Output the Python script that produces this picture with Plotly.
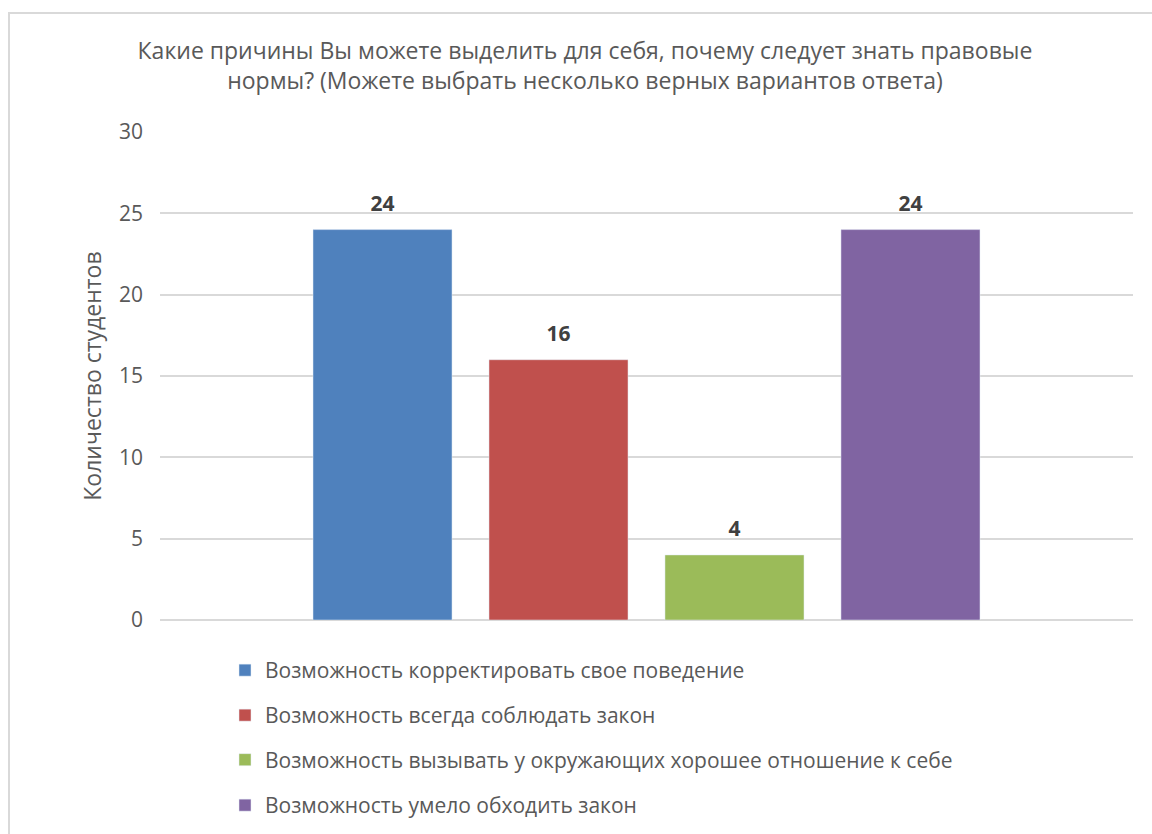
import plotly.graph_objects as go

title_text = "Какие причины Вы можете выделить для себя, почему следует знать правовые<br>нормы? (Можете выбрать несколько верных вариантов ответа)"
y_title = "Количество студентов"
category = [""]
series_names = [
    "Возможность корректировать свое поведение",
    "Возможность всегда соблюдать закон",
    "Возможность вызывать у окружающих хорошее отношение к себе",
    "Возможность умело обходить закон",
]
series_values = [24, 16, 4, 24]
series_colors = ["#4F81BD", "#C0504D", "#9BBB59", "#8064A2"]
y_ticks = [0, 5, 10, 15, 20, 25, 30]

FONT = "Open Sans"
BARGAP = 0.2765
legend_ids = ["legend", "legend2", "legend3", "legend4"]

fig = go.Figure()
for i, (name, val, col) in enumerate(zip(series_names, series_values, series_colors)):
    fig.add_trace(go.Bar(
        x=category, y=[val], name=name, marker_color=col,
        offsetgroup=f"g{i}", legend=legend_ids[i], hoverinfo="skip",
    ))
for i, (name, val) in enumerate(zip(series_names, series_values)):
    fig.add_trace(go.Scatter(
        x=category, y=[val], mode="markers+text", text=[str(val)], textposition="top center",
        marker=dict(size=20, color="rgba(0,0,0,0)"),
        textfont=dict(family=FONT, size=21, color="#404040", weight="bold"),
        offsetgroup=f"g{i}", showlegend=False, cliponaxis=False, hoverinfo="skip",
    ))

W, H = 1152, 834
L, R, T, B = 160, 19, 132, 214
pw, ph = W - L - R, H - T - B
plot_bottom = H - B

legend_tops = [650, 695, 739.5, 785]  # pixel rows of each legend entry
legend_layout = {}
for lid, top in zip(legend_ids, legend_tops):
    legend_layout[lid] = dict(
        orientation="v", x=(225 - L) / pw, xanchor="left", y=(plot_bottom - top) / ph, yanchor="top",
        font=dict(family=FONT, size=21, color="#595959"), itemwidth=30, bgcolor="rgba(0,0,0,0)",
    )

fig.update_layout(
    width=W, height=H,
    margin=dict(l=L, r=R, t=T, b=B, autoexpand=False),
    paper_bgcolor="white", plot_bgcolor="white",
    barmode="group", bargap=BARGAP, bargroupgap=0.21,
    scattermode="group", scattergap=BARGAP,
    font=dict(family=FONT, color="#595959"),
    title=dict(text=title_text, x=585 / W, xanchor="center", y=1 - 59 / H, yanchor="middle",
               font=dict(family=FONT, size=23, color="#595959")),
    showlegend=True,
    xaxis=dict(showticklabels=False, showgrid=False, zeroline=False, showline=False, range=[-0.5, 0.5]),
    yaxis=dict(
        range=[0, 30], tickvals=y_ticks, showgrid=True, gridcolor="#D9D9D9", gridwidth=1.5,
        zeroline=True, zerolinecolor="#D9D9D9", zerolinewidth=1.5, showline=False,
        tickfont=dict(family=FONT, size=21, color="#595959"), ticklabelstandoff=16,
        title=dict(text=y_title, font=dict(family=FONT, size=23, color="#595959"), standoff=10),
    ),
    shapes=[dict(
        type="rect", xref="paper", yref="paper",
        x0=(9 - L) / pw, x1=(W + 40 - L) / pw,
        y0=(plot_bottom - (H + 40)) / ph, y1=(plot_bottom - 13) / ph,
        line=dict(color="#D9D9D9", width=2), fillcolor="rgba(0,0,0,0)", layer="below",
    )],
    **legend_layout,
)

fig.write_html(
    "out.html",
    config={"displayModeBar": False},
    post_script="document.body.style.margin='0';document.body.style.overflow='hidden';",
)
